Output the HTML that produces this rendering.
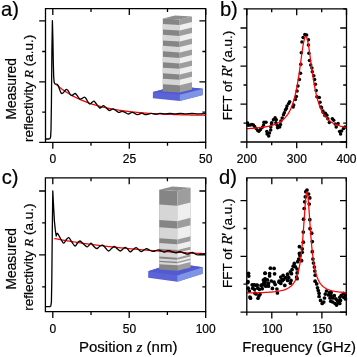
<!DOCTYPE html>
<html><head><meta charset="utf-8"><style>
html,body{margin:0;padding:0;background:#fff;width:357px;height:357px;overflow:hidden}
svg{display:block;will-change:transform}
text{font-family:"Liberation Sans",sans-serif;fill:#000;stroke:#000;stroke-width:0.2px}
</style></head><body>
<svg width="357" height="357" viewBox="0 0 357 357">
<rect width="357" height="357" fill="#fff"/>
<polygon points="152.9,91.9 176,86 202.9,88.7 202.9,95 179.8,100.9 152.9,98.2" fill="#5c63d6"/>
<polygon points="179.8,94.6 202.9,88.7 202.9,95 179.8,100.9" fill="#7e95e6"/>
<polygon points="152.9,91.9 179.8,94.6 202.9,88.7 176,86" fill="#525ad0"/>
<polygon points="162.8,18.4 179.7,19.5 179.7,92.6 162.8,91.5" fill="#858585"/>
<polygon points="179.7,19.5 192,16.5 192,89.6 179.7,92.6" fill="#9d9d9d"/>
<polygon points="162.8,23.88 179.7,24.98 179.7,30.52 162.8,29.42" fill="#d6d6d6"/>
<polygon points="179.7,24.98 192,21.98 192,27.52 179.7,30.52" fill="#efefef"/>
<polygon points="162.8,34.85 179.7,35.95 179.7,41.49 162.8,40.39" fill="#d6d6d6"/>
<polygon points="179.7,35.95 192,32.95 192,38.49 179.7,41.49" fill="#efefef"/>
<polygon points="162.8,45.82 179.7,46.92 179.7,52.46 162.8,51.36" fill="#d6d6d6"/>
<polygon points="179.7,46.92 192,43.92 192,49.46 179.7,52.46" fill="#efefef"/>
<polygon points="162.8,56.79 179.7,57.89 179.7,63.43 162.8,62.33" fill="#d6d6d6"/>
<polygon points="179.7,57.89 192,54.89 192,60.43 179.7,63.43" fill="#efefef"/>
<polygon points="162.8,67.77 179.7,68.86 179.7,74.4 162.8,73.3" fill="#d6d6d6"/>
<polygon points="179.7,68.86 192,65.86 192,71.4 179.7,74.4" fill="#efefef"/>
<polygon points="162.8,78.73 179.7,79.83 179.7,85.37 162.8,84.27" fill="#d6d6d6"/>
<polygon points="179.7,79.83 192,76.83 192,82.37 179.7,85.37" fill="#efefef"/>
<polygon points="162.8,18.4 179.7,19.5 192,16.5 175.1,15.4" fill="#8e8e8e"/>
<polygon points="148.2,271.2 173.6,263.1 202.7,267.2 202.7,273.7 177.3,281.8 148.2,277.7" fill="#5c63d6"/>
<polygon points="177.3,275.3 202.7,267.2 202.7,273.7 177.3,281.8" fill="#7e95e6"/>
<polygon points="148.2,271.2 177.3,275.3 202.7,267.2 173.6,263.1" fill="#525ad0"/>
<polygon points="159.2,189.8 177.4,191 177.4,270.8 159.2,269.6" fill="#858585"/>
<polygon points="177.4,191 190.6,187.7 190.6,267.5 177.4,270.8" fill="#9d9d9d"/>
<polygon points="159.2,204.5 177.4,205.7 177.4,221.15 159.2,219.95" fill="#d6d6d6"/>
<polygon points="177.4,205.7 190.6,202.4 190.6,217.85 177.4,221.15" fill="#efefef"/>
<polygon points="159.2,227.3 177.4,228.5 177.4,239.45 159.2,238.25" fill="#d6d6d6"/>
<polygon points="177.4,228.5 190.6,225.2 190.6,236.15 177.4,239.45" fill="#efefef"/>
<polygon points="159.2,243.1 177.4,244.3 177.4,249.95 159.2,248.75" fill="#d6d6d6"/>
<polygon points="177.4,244.3 190.6,241 190.6,246.65 177.4,249.95" fill="#efefef"/>
<polygon points="159.2,251.5 177.4,252.7 177.4,257.65 159.2,256.45" fill="#d6d6d6"/>
<polygon points="177.4,252.7 190.6,249.4 190.6,254.35 177.4,257.65" fill="#efefef"/>
<polygon points="159.2,258.5 177.4,259.7 177.4,261.85 159.2,260.65" fill="#d6d6d6"/>
<polygon points="177.4,259.7 190.6,256.4 190.6,258.55 177.4,261.85" fill="#efefef"/>
<polygon points="159.2,262 177.4,263.2 177.4,265.35 159.2,264.15" fill="#d6d6d6"/>
<polygon points="177.4,263.2 190.6,259.9 190.6,262.05 177.4,265.35" fill="#efefef"/>
<polygon points="159.2,189.8 177.4,191 190.6,187.7 172.4,186.5" fill="#8e8e8e"/>
<path d="M56.5 84.78C56.71 84.96 57.34 85.49 57.75 85.83C58.17 86.17 58.59 86.5 59.01 86.83C59.43 87.16 59.84 87.49 60.26 87.81C60.68 88.13 61.1 88.44 61.52 88.75C61.93 89.06 62.35 89.36 62.77 89.66C63.19 89.96 63.6 90.25 64.02 90.54C64.44 90.83 64.86 91.11 65.28 91.39C65.69 91.67 66.11 91.94 66.53 92.21C66.95 92.48 67.37 92.74 67.78 93C68.2 93.26 68.62 93.52 69.04 93.77C69.46 94.02 69.87 94.27 70.29 94.51C70.71 94.75 71.13 94.99 71.55 95.23C71.96 95.46 72.38 95.69 72.8 95.92C73.22 96.14 73.64 96.37 74.05 96.59C74.47 96.81 74.89 97.02 75.31 97.23C75.72 97.44 76.14 97.65 76.56 97.86C76.98 98.06 77.4 98.26 77.81 98.46C78.23 98.66 78.65 98.85 79.07 99.04C79.49 99.23 79.9 99.42 80.32 99.61C80.74 99.79 81.16 99.97 81.58 100.15C81.99 100.33 82.41 100.51 82.83 100.68C83.25 100.85 83.67 101.02 84.08 101.19C84.5 101.35 84.92 101.52 85.34 101.68C85.75 101.84 86.17 102 86.59 102.15C87.01 102.31 87.43 102.46 87.84 102.61C88.26 102.76 88.68 102.91 89.1 103.06C89.52 103.2 89.93 103.34 90.35 103.48C90.77 103.62 91.19 103.76 91.61 103.9C92.02 104.03 92.44 104.17 92.86 104.3C93.28 104.43 93.7 104.56 94.11 104.69C94.53 104.81 94.95 104.94 95.37 105.06C95.79 105.18 96.2 105.3 96.62 105.42C97.04 105.54 97.46 105.66 97.87 105.77C98.29 105.88 98.71 106 99.13 106.11C99.55 106.22 99.96 106.33 100.38 106.43C100.8 106.54 101.22 106.65 101.64 106.75C102.05 106.85 102.47 106.95 102.89 107.05C103.31 107.15 103.73 107.25 104.14 107.35C104.56 107.44 104.98 107.54 105.4 107.63C105.82 107.73 106.23 107.82 106.65 107.91C107.07 108 107.49 108.09 107.91 108.17C108.32 108.26 108.74 108.35 109.16 108.43C109.58 108.51 109.99 108.6 110.41 108.68C110.83 108.76 111.25 108.84 111.67 108.92C112.08 109 112.5 109.07 112.92 109.15C113.34 109.23 113.76 109.3 114.17 109.37C114.59 109.45 115.01 109.52 115.43 109.59C115.85 109.66 116.26 109.73 116.68 109.8C117.1 109.87 117.52 109.93 117.94 110C118.35 110.07 118.77 110.13 119.19 110.2C119.61 110.26 120.02 110.32 120.44 110.38C120.86 110.45 121.28 110.51 121.7 110.57C122.11 110.63 122.53 110.69 122.95 110.74C123.37 110.8 123.79 110.86 124.2 110.91C124.62 110.97 125.04 111.02 125.46 111.08C125.88 111.13 126.29 111.19 126.71 111.24C127.13 111.29 127.55 111.34 127.97 111.39C128.38 111.44 128.8 111.49 129.22 111.54C129.64 111.59 130.06 111.64 130.47 111.68C130.89 111.73 131.31 111.78 131.73 111.82C132.14 111.87 132.56 111.91 132.98 111.96C133.4 112 133.82 112.04 134.23 112.09C134.65 112.13 135.07 112.17 135.49 112.21C135.91 112.25 136.32 112.29 136.74 112.33C137.16 112.37 137.58 112.41 138 112.45C138.41 112.49 138.83 112.52 139.25 112.56C139.67 112.6 140.09 112.63 140.5 112.67C140.92 112.71 141.34 112.74 141.76 112.78C142.18 112.81 142.59 112.84 143.01 112.88C143.43 112.91 143.85 112.94 144.26 112.98C144.68 113.01 145.1 113.04 145.52 113.07C145.94 113.1 146.35 113.13 146.77 113.16C147.19 113.19 147.61 113.22 148.03 113.25C148.44 113.28 148.86 113.31 149.28 113.34C149.7 113.37 150.12 113.39 150.53 113.42C150.95 113.45 151.37 113.48 151.79 113.5C152.21 113.53 152.62 113.55 153.04 113.58C153.46 113.61 153.88 113.63 154.29 113.65C154.71 113.68 155.13 113.7 155.55 113.73C155.97 113.75 156.38 113.77 156.8 113.8C157.22 113.82 157.64 113.84 158.06 113.86C158.47 113.89 158.89 113.91 159.31 113.93C159.73 113.95 160.15 113.97 160.56 113.99C160.98 114.01 161.4 114.03 161.82 114.05C162.24 114.07 162.65 114.09 163.07 114.11C163.49 114.13 163.91 114.15 164.33 114.17C164.74 114.19 165.16 114.21 165.58 114.23C166 114.24 166.41 114.26 166.83 114.28C167.25 114.3 167.67 114.31 168.09 114.33C168.5 114.35 168.92 114.36 169.34 114.38C169.76 114.4 170.18 114.41 170.59 114.43C171.01 114.44 171.43 114.46 171.85 114.47C172.27 114.49 172.68 114.5 173.1 114.52C173.52 114.53 173.94 114.55 174.36 114.56C174.77 114.58 175.19 114.59 175.61 114.6C176.03 114.62 176.45 114.63 176.86 114.65C177.28 114.66 177.7 114.67 178.12 114.68C178.53 114.7 178.95 114.71 179.37 114.72C179.79 114.73 180.21 114.75 180.62 114.76C181.04 114.77 181.46 114.78 181.88 114.79C182.3 114.81 182.71 114.82 183.13 114.83C183.55 114.84 183.97 114.85 184.39 114.86C184.8 114.87 185.22 114.88 185.64 114.89C186.06 114.9 186.48 114.91 186.89 114.92C187.31 114.93 187.73 114.94 188.15 114.95C188.56 114.96 188.98 114.97 189.4 114.98C189.82 114.99 190.24 115 190.65 115.01C191.07 115.02 191.49 115.03 191.91 115.04C192.33 115.05 192.74 115.05 193.16 115.06C193.58 115.07 194 115.08 194.42 115.09C194.83 115.1 195.25 115.1 195.67 115.11C196.09 115.12 196.51 115.13 196.92 115.14C197.34 115.14 197.76 115.15 198.18 115.16C198.6 115.17 199.01 115.17 199.43 115.18C199.85 115.19 200.27 115.19 200.68 115.2C201.1 115.21 201.52 115.22 201.94 115.22C202.36 115.23 202.77 115.24 203.19 115.24C203.61 115.25 204.03 115.25 204.45 115.26C204.86 115.27 205.49 115.28 205.7 115.28" fill="none" stroke="#ff0000" stroke-width="1.25"/>
<path d="M45.8 139 L49 139 L50 138.6 L50.6 137 L51 130 L51.4 105 L51.9 50 L52.4 20.6 L52.9 40 L53.3 62 L53.7 77 L54.2 82.6C54.33 82.82 54.52 83.62 55 83.9C55.48 84.18 56.53 83.95 57.1 84.3C57.67 84.65 57.97 85.08 58.4 86C58.83 86.92 59.22 88.58 59.7 89.8C60.18 91.02 60.75 92.77 61.3 93.3C61.85 93.83 62.43 93.38 63 93C63.57 92.62 64.13 91.62 64.7 91C65.27 90.38 65.83 89.37 66.4 89.3C66.97 89.23 67.47 89.75 68.1 90.6C68.73 91.45 69.58 93.57 70.2 94.4C70.82 95.23 71.25 95.6 71.8 95.6C72.35 95.6 72.93 94.75 73.5 94.4C74.07 94.05 74.63 93.37 75.2 93.5C75.77 93.63 76.27 94.42 76.9 95.2C77.53 95.98 78.4 97.55 79 98.2C79.6 98.85 79.92 99.1 80.5 99.1C81.08 99.1 81.85 98.52 82.5 98.2C83.15 97.88 83.82 97.15 84.4 97.2C84.98 97.25 85.4 97.7 86 98.5C86.6 99.3 87.33 101.08 88 102C88.67 102.92 89.33 103.95 90 104C90.67 104.05 91.33 102.77 92 102.3C92.67 101.83 93.33 101 94 101.2C94.67 101.4 95.07 102.38 96 103.5C96.93 104.62 98.68 107.32 99.6 107.9C100.52 108.48 100.85 107.37 101.5 107C102.15 106.63 102.75 105.62 103.5 105.7C104.25 105.78 105.07 106.72 106 107.5C106.93 108.28 108.27 110.02 109.1 110.4C109.93 110.78 110.35 110.07 111 109.8C111.65 109.53 112.25 108.72 113 108.8C113.75 108.88 114.57 109.7 115.5 110.3C116.43 110.9 117.52 112.23 118.6 112.4C119.68 112.57 120.97 111.33 122 111.3C123.03 111.27 123.73 111.75 124.8 112.2C125.87 112.65 127.15 113.98 128.4 114C129.65 114.02 130.8 112.2 132.3 112.3C133.8 112.4 135.82 114.45 137.4 114.6C138.98 114.75 140.5 113.2 141.8 113.2C143.1 113.2 143.6 114.57 145.2 114.6C146.8 114.63 149.62 113.45 151.4 113.4C153.18 113.35 154.5 114.3 155.9 114.3C157.3 114.3 158.28 113.45 159.8 113.4C161.32 113.35 163.3 114.02 165 114C166.7 113.98 168.33 113.32 170 113.3C171.67 113.28 173.33 113.88 175 113.9C176.67 113.92 178.17 113.42 180 113.4C181.83 113.38 184 113.78 186 113.8C188 113.82 190 113.48 192 113.5C194 113.52 195.72 113.88 198 113.9C200.28 113.92 204.42 113.65 205.7 113.6" fill="none" stroke="#000" stroke-width="1.3" stroke-linejoin="round"/>
<path d="M54.2 238.49C54.41 238.53 55.05 238.65 55.47 238.73C55.9 238.81 56.32 238.89 56.75 238.96C57.17 239.04 57.59 239.12 58.02 239.2C58.44 239.28 58.87 239.35 59.29 239.43C59.72 239.51 60.14 239.58 60.57 239.66C60.99 239.73 61.41 239.81 61.84 239.88C62.26 239.96 62.69 240.03 63.11 240.11C63.54 240.18 63.96 240.25 64.38 240.33C64.81 240.4 65.23 240.47 65.66 240.54C66.08 240.62 66.51 240.69 66.93 240.76C67.36 240.83 67.78 240.9 68.2 240.97C68.63 241.04 69.05 241.11 69.48 241.18C69.9 241.25 70.33 241.32 70.75 241.39C71.17 241.46 71.6 241.53 72.02 241.59C72.45 241.66 72.87 241.73 73.3 241.8C73.72 241.86 74.15 241.93 74.57 242C74.99 242.06 75.42 242.13 75.84 242.19C76.27 242.26 76.69 242.32 77.12 242.39C77.54 242.45 77.96 242.52 78.39 242.58C78.81 242.65 79.24 242.71 79.66 242.77C80.09 242.84 80.51 242.9 80.94 242.96C81.36 243.02 81.78 243.09 82.21 243.15C82.63 243.21 83.06 243.27 83.48 243.33C83.91 243.39 84.33 243.45 84.75 243.51C85.18 243.57 85.6 243.63 86.03 243.69C86.45 243.75 86.88 243.81 87.3 243.87C87.73 243.93 88.15 243.99 88.57 244.04C89 244.1 89.42 244.16 89.85 244.22C90.27 244.27 90.7 244.33 91.12 244.39C91.54 244.44 91.97 244.5 92.39 244.56C92.82 244.61 93.24 244.67 93.67 244.72C94.09 244.78 94.52 244.83 94.94 244.89C95.36 244.94 95.79 245 96.21 245.05C96.64 245.1 97.06 245.16 97.49 245.21C97.91 245.27 98.33 245.32 98.76 245.37C99.18 245.42 99.61 245.48 100.03 245.53C100.46 245.58 100.88 245.63 101.31 245.68C101.73 245.73 102.15 245.79 102.58 245.84C103 245.89 103.43 245.94 103.85 245.99C104.28 246.04 104.7 246.09 105.12 246.14C105.55 246.19 105.97 246.24 106.4 246.28C106.82 246.33 107.25 246.38 107.67 246.43C108.09 246.48 108.52 246.53 108.94 246.58C109.37 246.62 109.79 246.67 110.22 246.72C110.64 246.76 111.07 246.81 111.49 246.86C111.91 246.91 112.34 246.95 112.76 247C113.19 247.04 113.61 247.09 114.04 247.13C114.46 247.18 114.88 247.23 115.31 247.27C115.73 247.32 116.16 247.36 116.58 247.4C117.01 247.45 117.43 247.49 117.86 247.54C118.28 247.58 118.7 247.62 119.13 247.67C119.55 247.71 119.98 247.75 120.4 247.8C120.83 247.84 121.25 247.88 121.67 247.93C122.1 247.97 122.52 248.01 122.95 248.05C123.37 248.09 123.8 248.14 124.22 248.18C124.65 248.22 125.07 248.26 125.49 248.3C125.92 248.34 126.34 248.38 126.77 248.42C127.19 248.46 127.62 248.5 128.04 248.54C128.46 248.58 128.89 248.62 129.31 248.66C129.74 248.7 130.16 248.74 130.59 248.78C131.01 248.82 131.44 248.86 131.86 248.89C132.28 248.93 132.71 248.97 133.13 249.01C133.56 249.05 133.98 249.08 134.41 249.12C134.83 249.16 135.25 249.2 135.68 249.23C136.1 249.27 136.53 249.31 136.95 249.34C137.38 249.38 137.8 249.42 138.23 249.45C138.65 249.49 139.07 249.53 139.5 249.56C139.92 249.6 140.35 249.63 140.77 249.67C141.2 249.7 141.62 249.74 142.04 249.77C142.47 249.81 142.89 249.84 143.32 249.88C143.74 249.91 144.17 249.95 144.59 249.98C145.02 250.01 145.44 250.05 145.86 250.08C146.29 250.12 146.71 250.15 147.14 250.18C147.56 250.22 147.99 250.25 148.41 250.28C148.83 250.31 149.26 250.35 149.68 250.38C150.11 250.41 150.53 250.44 150.96 250.48C151.38 250.51 151.81 250.54 152.23 250.57C152.65 250.6 153.08 250.63 153.5 250.67C153.93 250.7 154.35 250.73 154.78 250.76C155.2 250.79 155.62 250.82 156.05 250.85C156.47 250.88 156.9 250.91 157.32 250.94C157.75 250.97 158.17 251 158.59 251.03C159.02 251.06 159.44 251.09 159.87 251.12C160.29 251.15 160.72 251.18 161.14 251.21C161.57 251.24 161.99 251.27 162.41 251.3C162.84 251.32 163.26 251.35 163.69 251.38C164.11 251.41 164.54 251.44 164.96 251.47C165.38 251.49 165.81 251.52 166.23 251.55C166.66 251.58 167.08 251.6 167.51 251.63C167.93 251.66 168.36 251.69 168.78 251.71C169.2 251.74 169.63 251.77 170.05 251.79C170.48 251.82 170.9 251.85 171.33 251.87C171.75 251.9 172.17 251.93 172.6 251.95C173.02 251.98 173.45 252.01 173.87 252.03C174.3 252.06 174.72 252.08 175.15 252.11C175.57 252.13 175.99 252.16 176.42 252.18C176.84 252.21 177.27 252.23 177.69 252.26C178.12 252.28 178.54 252.31 178.96 252.33C179.39 252.36 179.81 252.38 180.24 252.41C180.66 252.43 181.09 252.45 181.51 252.48C181.94 252.5 182.36 252.53 182.78 252.55C183.21 252.57 183.63 252.6 184.06 252.62C184.48 252.64 184.91 252.67 185.33 252.69C185.75 252.71 186.18 252.74 186.6 252.76C187.03 252.78 187.45 252.8 187.88 252.83C188.3 252.85 188.73 252.87 189.15 252.89C189.57 252.92 190 252.94 190.42 252.96C190.85 252.98 191.27 253.01 191.7 253.03C192.12 253.05 192.54 253.07 192.97 253.09C193.39 253.11 193.82 253.13 194.24 253.16C194.67 253.18 195.09 253.2 195.52 253.22C195.94 253.24 196.36 253.26 196.79 253.28C197.21 253.3 197.64 253.32 198.06 253.34C198.49 253.36 198.91 253.38 199.33 253.4C199.76 253.42 200.18 253.44 200.61 253.46C201.03 253.48 201.46 253.5 201.88 253.52C202.31 253.54 202.73 253.56 203.15 253.58C203.58 253.6 204 253.62 204.43 253.64C204.85 253.66 205.49 253.69 205.7 253.7" fill="none" stroke="#ff0000" stroke-width="1.25"/>
<path d="M45.8 306.6 L49.8 306.6 L50.8 306 L51.4 302 L51.8 280 L52.3 230 L52.8 191 L53.4 203 L53.9 212 L54.4 221 L55.3 229.9 L56.2 236C56.42 235.57 56.78 232.98 57.5 233.4C58.22 233.82 59.47 236.87 60.5 238.5C61.53 240.13 62.78 242.95 63.7 243.2C64.62 243.45 65.15 240.93 66 240C66.85 239.07 67.88 237.35 68.8 237.6C69.72 237.85 70.47 240.1 71.5 241.5C72.53 242.9 74 245.75 75 246C76 246.25 76.67 243.83 77.5 243C78.33 242.17 79 240.83 80 241C81 241.17 82.28 243.03 83.5 244C84.72 244.97 86.05 246.93 87.3 246.8C88.55 246.67 89.97 243.33 91 243.2C92.03 243.07 92.55 245.12 93.5 246C94.45 246.88 95.7 248.42 96.7 248.5C97.7 248.58 98.52 247.05 99.5 246.5C100.48 245.95 101.6 244.95 102.6 245.2C103.6 245.45 104.52 247.03 105.5 248C106.48 248.97 107.5 250.92 108.5 251C109.5 251.08 110.52 249.25 111.5 248.5C112.48 247.75 113.4 246.42 114.4 246.5C115.4 246.58 116.52 248.25 117.5 249C118.48 249.75 119.38 251 120.3 251C121.22 251 122.17 249.6 123 249C123.83 248.4 124.47 247.32 125.3 247.4C126.13 247.48 127.17 248.75 128 249.5C128.83 250.25 129.42 251.9 130.3 251.9C131.18 251.9 132.32 250.2 133.3 249.5C134.28 248.8 135.25 247.62 136.2 247.7C137.15 247.78 138.15 249.35 139 250C139.85 250.65 140.47 251.6 141.3 251.6C142.13 251.6 143.1 250.48 144 250C144.9 249.52 145.7 248.62 146.7 248.7C147.7 248.78 148.88 250.05 150 250.5C151.12 250.95 152.4 251.4 153.4 251.4C154.4 251.4 155.15 250.75 156 250.5C156.85 250.25 157.58 249.78 158.5 249.9C159.42 250.02 160.57 250.83 161.5 251.2C162.43 251.57 163.27 252.1 164.1 252.1C164.93 252.1 165.67 251.45 166.5 251.2C167.33 250.95 168.1 250.47 169.1 250.6C170.1 250.73 171.37 251.62 172.5 252C173.63 252.38 174.9 252.9 175.9 252.9C176.9 252.9 177.67 252.18 178.5 252C179.33 251.82 179.9 251.6 180.9 251.8C181.9 252 183.37 252.8 184.5 253.2C185.63 253.6 186.78 254.2 187.7 254.2C188.62 254.2 189.25 253.48 190 253.2C190.75 252.92 191.37 252.4 192.2 252.5C193.03 252.6 194.12 253.4 195 253.8C195.88 254.2 196.5 254.83 197.5 254.9C198.5 254.97 199.63 254.4 201 254.2C202.37 254 204.92 253.78 205.7 253.7" fill="none" stroke="#000" stroke-width="1.3" stroke-linejoin="round"/>
<g fill="#000"><circle cx="247.6" cy="123" r="1.75"/><circle cx="248.3" cy="125.3" r="1.75"/><circle cx="250.3" cy="124.9" r="1.75"/><circle cx="251.9" cy="124.5" r="1.75"/><circle cx="253.4" cy="124.9" r="1.75"/><circle cx="254.6" cy="126.5" r="1.75"/><circle cx="256.2" cy="128.4" r="1.75"/><circle cx="257.7" cy="130.4" r="1.75"/><circle cx="258.9" cy="131.2" r="1.75"/><circle cx="260.5" cy="129.6" r="1.75"/><circle cx="262.4" cy="127.3" r="1.75"/><circle cx="263.6" cy="124.9" r="1.75"/><circle cx="264" cy="122.2" r="1.75"/><circle cx="266" cy="122.2" r="1.75"/><circle cx="266.8" cy="131.6" r="1.75"/><circle cx="267.1" cy="133.9" r="1.75"/><circle cx="268.7" cy="135.9" r="1.75"/><circle cx="269.5" cy="133.1" r="1.75"/><circle cx="270.7" cy="130" r="1.75"/><circle cx="271.5" cy="123.7" r="1.75"/><circle cx="270.8" cy="126.9" r="1.75"/><circle cx="271.7" cy="122.7" r="1.75"/><circle cx="273.4" cy="119.8" r="1.75"/><circle cx="275.1" cy="117.7" r="1.75"/><circle cx="276.3" cy="119.8" r="1.75"/><circle cx="275.9" cy="122.7" r="1.75"/><circle cx="277.2" cy="125.3" r="1.75"/><circle cx="277.6" cy="127.8" r="1.75"/><circle cx="279.7" cy="126.9" r="1.75"/><circle cx="280.5" cy="124.4" r="1.75"/><circle cx="280.9" cy="121" r="1.75"/><circle cx="282.2" cy="118.1" r="1.75"/><circle cx="283.5" cy="114.7" r="1.75"/><circle cx="284.3" cy="112.8" r="1.75"/><circle cx="285.4" cy="110.1" r="1.75"/><circle cx="286.4" cy="108.5" r="1.75"/><circle cx="287" cy="106.1" r="1.75"/><circle cx="288.7" cy="103.4" r="1.75"/><circle cx="289.7" cy="101.7" r="1.75"/><circle cx="293.1" cy="107.1" r="1.75"/><circle cx="293.7" cy="105.1" r="1.75"/><circle cx="295.4" cy="99.4" r="1.75"/><circle cx="296.4" cy="96.4" r="1.75"/><circle cx="297.1" cy="91" r="1.75"/><circle cx="298" cy="85.9" r="1.75"/><circle cx="299.4" cy="79.6" r="1.75"/><circle cx="300.5" cy="73.3" r="1.75"/><circle cx="300.8" cy="64.2" r="1.75"/><circle cx="301.3" cy="52.7" r="1.75"/><circle cx="301.9" cy="42.1" r="1.75"/><circle cx="303.1" cy="37.4" r="1.75"/><circle cx="304.8" cy="34.5" r="1.75"/><circle cx="306.6" cy="35.1" r="1.75"/><circle cx="308.4" cy="39.8" r="1.75"/><circle cx="308.4" cy="45.1" r="1.75"/><circle cx="308.9" cy="53.3" r="1.75"/><circle cx="309.5" cy="60.4" r="1.75"/><circle cx="310.7" cy="65.1" r="1.75"/><circle cx="311.9" cy="68" r="1.75"/><circle cx="312.3" cy="71.8" r="1.75"/><circle cx="313.8" cy="75.7" r="1.75"/><circle cx="314.6" cy="79.6" r="1.75"/><circle cx="315.4" cy="84.3" r="1.75"/><circle cx="316.2" cy="90.6" r="1.75"/><circle cx="316.9" cy="96.8" r="1.75"/><circle cx="319.3" cy="97.6" r="1.75"/><circle cx="320" cy="102.3" r="1.75"/><circle cx="321" cy="107" r="1.75"/><circle cx="321.6" cy="107.8" r="1.75"/><circle cx="322.9" cy="110.9" r="1.75"/><circle cx="323.2" cy="112.4" r="1.75"/><circle cx="324.8" cy="115.6" r="1.75"/><circle cx="325.4" cy="113.3" r="1.75"/><circle cx="326.9" cy="115.3" r="1.75"/><circle cx="327.8" cy="118.7" r="1.75"/><circle cx="329.3" cy="122.6" r="1.75"/><circle cx="332.3" cy="118.7" r="1.75"/><circle cx="333.7" cy="120.2" r="1.75"/><circle cx="335.2" cy="124.1" r="1.75"/><circle cx="336.2" cy="127.1" r="1.75"/><circle cx="338.1" cy="123.6" r="1.75"/><circle cx="339.6" cy="131.5" r="1.75"/><circle cx="340.6" cy="133.9" r="1.75"/><circle cx="341.6" cy="131" r="1.75"/><circle cx="343.5" cy="128.5" r="1.75"/><circle cx="345" cy="127.1" r="1.75"/></g>
<path d="M246.8 128.67 L248.04 128.6 L249.27 128.53 L250.51 128.45 L251.74 128.36 L252.98 128.27 L254.22 128.17 L255.45 128.07 L256.69 127.95 L257.92 127.83 L259.16 127.69 L260.39 127.55 L261.63 127.39 L262.87 127.22 L264.1 127.03 L265.34 126.82 L266.57 126.6 L267.81 126.35 L269.05 126.08 L270.28 125.78 L271.52 125.45 L272.75 125.08 L273.99 124.68 L275.23 124.22 L276.46 123.72 L277.7 123.15 L278.93 122.5 L280.17 121.77 L281.41 120.95 L282.64 120 L283.88 118.92 L285.11 117.67 L286.35 116.23 L287.58 114.54 L288.82 112.57 L290.06 110.25 L291.29 107.51 L292.53 104.25 L293.76 100.37 L295 95.74 L295 95.74 L295.37 94.17 L295.75 92.53 L296.12 90.8 L296.49 88.97 L296.86 87.06 L297.24 85.05 L297.61 82.95 L297.98 80.75 L298.36 78.46 L298.73 76.08 L299.1 73.6 L299.47 71.05 L299.85 68.43 L300.22 65.75 L300.59 63.02 L300.97 60.27 L301.34 57.51 L301.71 54.78 L302.08 52.11 L302.46 49.52 L302.83 47.06 L303.2 44.76 L303.58 42.66 L303.95 40.81 L304.32 39.24 L304.69 37.98 L305.07 37.07 L305.44 36.52 L305.81 36.34 L306.19 36.55 L306.56 37.13 L306.93 38.08 L307.31 39.37 L307.68 40.96 L308.05 42.84 L308.42 44.96 L308.8 47.27 L309.17 49.75 L309.54 52.35 L309.92 55.04 L310.29 57.78 L310.66 60.54 L311.03 63.3 L311.41 66.03 L311.78 68.71 L312.15 71.33 L312.53 73.89 L312.9 76.36 L313.27 78.74 L313.64 81.03 L314.02 83.23 L314.39 85.33 L314.76 87.34 L315.14 89.25 L315.51 91.07 L315.88 92.8 L316.25 94.45 L316.63 96.01 L317 97.49 L317 97.49 L318.02 101.16 L319.03 104.34 L320.05 107.09 L321.07 109.48 L322.09 111.56 L323.1 113.38 L324.12 114.97 L325.14 116.37 L326.16 117.61 L327.17 118.7 L328.19 119.68 L329.21 120.55 L330.22 121.33 L331.24 122.03 L332.26 122.66 L333.28 123.24 L334.29 123.75 L335.31 124.23 L336.33 124.66 L337.34 125.05 L338.36 125.41 L339.38 125.74 L340.4 126.05 L341.41 126.33 L342.43 126.59 L343.45 126.84 L344.47 127.06 L345.48 127.27 L346.5 127.47" fill="none" stroke="#ff0000" stroke-width="1.25"/>
<g fill="#000"><circle cx="307" cy="190" r="1.85"/><circle cx="305.8" cy="191.7" r="1.85"/><circle cx="308.6" cy="194" r="1.85"/><circle cx="305.3" cy="196.8" r="1.85"/><circle cx="309.8" cy="197.9" r="1.85"/><circle cx="304.7" cy="201.8" r="1.85"/><circle cx="309.2" cy="204" r="1.85"/><circle cx="304.2" cy="208.5" r="1.85"/><circle cx="303.6" cy="219.2" r="1.85"/><circle cx="309.8" cy="219.7" r="1.85"/><circle cx="310" cy="228.7" r="1.85"/><circle cx="311.7" cy="233.2" r="1.85"/><circle cx="303.3" cy="232.1" r="1.85"/><circle cx="303.3" cy="242.2" r="1.85"/><circle cx="312.3" cy="241.6" r="1.85"/><circle cx="299.4" cy="246.7" r="1.85"/><circle cx="302.2" cy="248.9" r="1.85"/><circle cx="299.4" cy="253.4" r="1.85"/><circle cx="302.2" cy="252.3" r="1.85"/><circle cx="312.3" cy="251.7" r="1.85"/><circle cx="298.8" cy="259" r="1.85"/><circle cx="301.6" cy="260.7" r="1.85"/><circle cx="312.9" cy="259" r="1.85"/><circle cx="313.5" cy="263" r="1.85"/><circle cx="314.4" cy="267" r="1.85"/><circle cx="314.8" cy="271" r="1.85"/><circle cx="315.2" cy="275.2" r="1.85"/><circle cx="315.1" cy="281.2" r="1.85"/><circle cx="316.7" cy="283.9" r="1.85"/><circle cx="317.5" cy="287.8" r="1.85"/><circle cx="318.3" cy="290.5" r="1.85"/><circle cx="319.1" cy="293.3" r="1.85"/><circle cx="319.1" cy="296.5" r="1.85"/><circle cx="320.6" cy="300.4" r="1.85"/><circle cx="322.2" cy="303.5" r="1.85"/><circle cx="323.8" cy="302" r="1.85"/><circle cx="324.5" cy="298" r="1.85"/><circle cx="325.3" cy="294.1" r="1.85"/><circle cx="326.5" cy="291" r="1.85"/><circle cx="328.5" cy="294.9" r="1.85"/><circle cx="330" cy="298" r="1.85"/><circle cx="330.8" cy="301.2" r="1.85"/><circle cx="331.2" cy="292.5" r="1.85"/><circle cx="329.6" cy="292.5" r="1.85"/><circle cx="331.1" cy="295.7" r="1.85"/><circle cx="332.7" cy="298" r="1.85"/><circle cx="332.7" cy="302" r="1.85"/><circle cx="335.1" cy="303.5" r="1.85"/><circle cx="336.6" cy="305.1" r="1.85"/><circle cx="338.2" cy="302.7" r="1.85"/><circle cx="339.8" cy="303.5" r="1.85"/><circle cx="340.5" cy="300.4" r="1.85"/><circle cx="339.8" cy="297.3" r="1.85"/><circle cx="341.3" cy="295.3" r="1.85"/><circle cx="343.7" cy="297.3" r="1.85"/><circle cx="345.3" cy="295.7" r="1.85"/><circle cx="343.7" cy="293.3" r="1.85"/><circle cx="334.3" cy="295.7" r="1.85"/><circle cx="335.8" cy="298.8" r="1.85"/><circle cx="337.4" cy="300.4" r="1.85"/><circle cx="345.5" cy="299" r="1.85"/><circle cx="299.9" cy="255.6" r="1.85"/><circle cx="298.8" cy="259.5" r="1.85"/><circle cx="297.7" cy="261.7" r="1.85"/><circle cx="294.3" cy="263.4" r="1.85"/><circle cx="293.2" cy="266.2" r="1.85"/><circle cx="295.4" cy="266.8" r="1.85"/><circle cx="292.1" cy="269.6" r="1.85"/><circle cx="297.1" cy="269" r="1.85"/><circle cx="290.4" cy="271.8" r="1.85"/><circle cx="287.6" cy="274" r="1.85"/><circle cx="297.1" cy="272.9" r="1.85"/><circle cx="283.1" cy="275.4" r="1.85"/><circle cx="287.6" cy="274.8" r="1.85"/><circle cx="291.5" cy="273.7" r="1.85"/><circle cx="285.4" cy="277.6" r="1.85"/><circle cx="288.7" cy="277.6" r="1.85"/><circle cx="283.7" cy="279.3" r="1.85"/><circle cx="287.6" cy="280.4" r="1.85"/><circle cx="291" cy="280.4" r="1.85"/><circle cx="284.8" cy="285.4" r="1.85"/><circle cx="290.4" cy="283.2" r="1.85"/><circle cx="296.6" cy="277" r="1.85"/><circle cx="297.1" cy="278.7" r="1.85"/><circle cx="270.4" cy="268.2" r="1.85"/><circle cx="274.1" cy="268.4" r="1.85"/><circle cx="265.1" cy="273.2" r="1.85"/><circle cx="269.6" cy="273.5" r="1.85"/><circle cx="274.6" cy="273.8" r="1.85"/><circle cx="269.6" cy="276" r="1.85"/><circle cx="265.1" cy="278.8" r="1.85"/><circle cx="267.4" cy="279.9" r="1.85"/><circle cx="271.3" cy="281" r="1.85"/><circle cx="280.8" cy="277.1" r="1.85"/><circle cx="281.9" cy="279.9" r="1.85"/><circle cx="279.1" cy="281" r="1.85"/><circle cx="265.1" cy="282.2" r="1.85"/><circle cx="268.5" cy="283.4" r="1.85"/><circle cx="268.5" cy="286.2" r="1.85"/><circle cx="265.7" cy="286.2" r="1.85"/><circle cx="274.1" cy="282.2" r="1.85"/><circle cx="275.2" cy="284.5" r="1.85"/><circle cx="279.1" cy="282.2" r="1.85"/><circle cx="280.8" cy="283.4" r="1.85"/><circle cx="272.4" cy="288.4" r="1.85"/><circle cx="276.9" cy="289" r="1.85"/><circle cx="277.4" cy="292.9" r="1.85"/><circle cx="282.5" cy="280.6" r="1.85"/><circle cx="248.5" cy="273.3" r="1.85"/><circle cx="248.8" cy="276.1" r="1.85"/><circle cx="248" cy="281.7" r="1.85"/><circle cx="265" cy="273.3" r="1.85"/><circle cx="263.4" cy="280" r="1.85"/><circle cx="265" cy="279.4" r="1.85"/><circle cx="253.3" cy="285" r="1.85"/><circle cx="257.2" cy="285" r="1.85"/><circle cx="261.7" cy="285" r="1.85"/><circle cx="265" cy="284.5" r="1.85"/><circle cx="247.7" cy="282.6" r="1.85"/><circle cx="248.2" cy="288.2" r="1.85"/><circle cx="249.4" cy="291" r="1.85"/><circle cx="249.9" cy="297.1" r="1.85"/><circle cx="250.5" cy="298.2" r="1.85"/><circle cx="252.2" cy="284.8" r="1.85"/><circle cx="254.4" cy="284.8" r="1.85"/><circle cx="256.6" cy="285.4" r="1.85"/><circle cx="252.7" cy="288.2" r="1.85"/><circle cx="254.4" cy="289.3" r="1.85"/><circle cx="255" cy="293.2" r="1.85"/><circle cx="256.1" cy="294" r="1.85"/><circle cx="257.8" cy="288.2" r="1.85"/><circle cx="259.4" cy="289.3" r="1.85"/><circle cx="261.1" cy="285.4" r="1.85"/><circle cx="262.8" cy="284.8" r="1.85"/><circle cx="262.2" cy="288.7" r="1.85"/><circle cx="258.9" cy="296" r="1.85"/><circle cx="258" cy="298.2" r="1.85"/><circle cx="260" cy="294.3" r="1.85"/><circle cx="263.9" cy="282.6" r="1.85"/></g>
<path d="M246.8 292.97 L248.11 292.95 L249.43 292.93 L250.74 292.91 L252.05 292.88 L253.36 292.86 L254.68 292.83 L255.99 292.79 L257.3 292.76 L258.62 292.72 L259.93 292.67 L261.24 292.63 L262.55 292.57 L263.87 292.52 L265.18 292.45 L266.49 292.38 L267.81 292.3 L269.12 292.22 L270.43 292.12 L271.74 292.01 L273.06 291.89 L274.37 291.75 L275.68 291.59 L276.99 291.42 L278.31 291.21 L279.62 290.98 L280.93 290.72 L282.25 290.41 L283.56 290.04 L284.87 289.62 L286.18 289.11 L287.5 288.5 L288.81 287.77 L290.12 286.87 L291.44 285.76 L292.75 284.36 L294.06 282.56 L295.37 280.24 L296.69 277.15 L298 272.97 L298 272.97 L298.23 272.1 L298.46 271.18 L298.68 270.21 L298.91 269.18 L299.14 268.08 L299.37 266.93 L299.59 265.7 L299.82 264.39 L300.05 263.01 L300.28 261.54 L300.51 259.99 L300.73 258.33 L300.96 256.58 L301.19 254.72 L301.42 252.75 L301.65 250.66 L301.87 248.45 L302.1 246.12 L302.33 243.65 L302.56 241.06 L302.78 238.34 L303.01 235.5 L303.24 232.53 L303.47 229.45 L303.7 226.28 L303.92 223.02 L304.15 219.71 L304.38 216.38 L304.61 213.06 L304.84 209.8 L305.06 206.64 L305.29 203.64 L305.52 200.86 L305.75 198.36 L305.97 196.2 L306.2 194.43 L306.43 193.11 L306.66 192.27 L306.89 191.94 L307.11 192.12 L307.34 192.81 L307.57 194 L307.8 195.64 L308.03 197.69 L308.25 200.09 L308.48 202.8 L308.71 205.74 L308.94 208.86 L309.16 212.1 L309.39 215.41 L309.62 218.75 L309.85 222.07 L310.08 225.34 L310.3 228.55 L310.53 231.66 L310.76 234.66 L310.99 237.55 L311.22 240.31 L311.44 242.94 L311.67 245.44 L311.9 247.82 L312.13 250.07 L312.35 252.19 L312.58 254.2 L312.81 256.09 L313.04 257.88 L313.27 259.57 L313.49 261.15 L313.72 262.65 L313.95 264.06 L314.18 265.39 L314.41 266.64 L314.63 267.82 L314.86 268.93 L315.09 269.99 L315.32 270.98 L315.54 271.92 L315.77 272.8 L316 273.64 L316 273.64 L317.04 276.95 L318.09 279.55 L319.13 281.62 L320.18 283.29 L321.22 284.65 L322.27 285.78 L323.31 286.71 L324.36 287.5 L325.4 288.17 L326.45 288.75 L327.49 289.24 L328.54 289.67 L329.58 290.04 L330.63 290.37 L331.67 290.66 L332.72 290.92 L333.76 291.15 L334.81 291.36 L335.85 291.54 L336.9 291.71 L337.94 291.86 L338.99 292 L340.03 292.13 L341.08 292.24 L342.12 292.35 L343.17 292.45 L344.21 292.54 L345.26 292.62 L346.3 292.7" fill="none" stroke="#ff0000" stroke-width="1.25"/>
<path d="M45.5 8.7 H205.7 V142.4 H45.5 Z" fill="none" stroke="#000" stroke-width="1.3" stroke-linejoin="miter" stroke-linecap="square"/>
<path d="M39.2 20.9H45.5M205.7 20.9H199.4M39.2 81.8H45.5M205.7 81.8H199.4M39.2 142.4H45.5M205.7 142.4H199.4M42.2 51.5H45.5M205.7 51.5H202.4M42.2 112.1H45.5M205.7 112.1H202.4M52.8 142.4V148.7M52.8 8.7V15M129.3 142.4V148.7M129.3 8.7V15M205.7 142.4V148.7M205.7 8.7V15M91 142.4V145.7M91 8.7V12M167.5 142.4V145.7M167.5 8.7V12" fill="none" stroke="#000" stroke-width="1.3"/>
<path d="M246.8 8.9 H346.5 V142 H246.8 Z" fill="none" stroke="#000" stroke-width="1.3" stroke-linejoin="miter" stroke-linecap="square"/>
<path d="M240.5 28H246.8M346.5 28H340.2M240.5 66.2H246.8M346.5 66.2H340.2M240.5 104.1H246.8M346.5 104.1H340.2M240.5 142H246.8M346.5 142H340.2M243.5 8.9H246.8M346.5 8.9H343.2M243.5 47.1H246.8M346.5 47.1H343.2M243.5 85H246.8M346.5 85H343.2M243.5 123.1H246.8M346.5 123.1H343.2M246.8 142V148.3M246.8 8.9V15.2M296.7 142V148.3M296.7 8.9V15.2M346.5 142V148.3M346.5 8.9V15.2M271.7 142V145.3M271.7 8.9V12.2M321.7 142V145.3M321.7 8.9V12.2" fill="none" stroke="#000" stroke-width="1.3"/>
<path d="M45.4 177.9 H205.7 V311.6 H45.4 Z" fill="none" stroke="#000" stroke-width="1.3" stroke-linejoin="miter" stroke-linecap="square"/>
<path d="M39.1 191H45.4M205.7 191H199.4M39.1 254.9H45.4M205.7 254.9H199.4M42.1 222.9H45.4M205.7 222.9H202.4M42.1 286.8H45.4M205.7 286.8H202.4M52.8 311.6V317.9M52.8 177.9V184.2M129.2 311.6V317.9M129.2 177.9V184.2M205.7 311.6V317.9M205.7 177.9V184.2M91 311.6V314.9M91 177.9V181.2M167.4 311.6V314.9M167.4 177.9V181.2" fill="none" stroke="#000" stroke-width="1.3"/>
<path d="M246.8 177.9 H346.3 V312.1 H246.8 Z" fill="none" stroke="#000" stroke-width="1.3" stroke-linejoin="miter" stroke-linecap="square"/>
<path d="M240.5 200.6H246.8M346.3 200.6H340M240.5 256.3H246.8M346.3 256.3H340M240.5 312.1H246.8M346.3 312.1H340M243.5 228.5H246.8M346.3 228.5H343M243.5 284.2H246.8M346.3 284.2H343M271.8 312.1V318.4M271.8 177.9V184.2M321.9 312.1V318.4M321.9 177.9V184.2M246.8 312.1V315.4M246.8 177.9V181.2M296.9 312.1V315.4M296.9 177.9V181.2M346.3 312.1V315.4M346.3 177.9V181.2" fill="none" stroke="#000" stroke-width="1.3"/>
<text x="52.8" y="163.1" font-size="12" text-anchor="middle" >0</text>
<text x="129.4" y="163.1" font-size="12" text-anchor="middle" >25</text>
<text x="205.8" y="163.1" font-size="12" text-anchor="middle" >50</text>
<text x="246.8" y="162.9" font-size="12" text-anchor="middle" >200</text>
<text x="296.8" y="162.9" font-size="12" text-anchor="middle" >300</text>
<text x="346.5" y="162.9" font-size="12" text-anchor="middle" >400</text>
<text x="52.8" y="332.5" font-size="12" text-anchor="middle" >0</text>
<text x="129.4" y="332.5" font-size="12" text-anchor="middle" >50</text>
<text x="205.7" y="332.5" font-size="12" text-anchor="middle" >100</text>
<text x="272.3" y="333.2" font-size="12" text-anchor="middle" >100</text>
<text x="322.2" y="333.2" font-size="12" text-anchor="middle" >150</text>
<text x="1.1" y="15.8" font-size="20.2" text-anchor="start" >a)</text>
<text x="219.9" y="15.8" font-size="20.2" text-anchor="start" >b)</text>
<text x="1.7" y="183.6" font-size="20.2" text-anchor="start" >c)</text>
<text x="219.1" y="184" font-size="20.2" text-anchor="start" >d)</text>
<text transform="translate(15.8 119.4) rotate(-90)" font-size="13.8">Measured</text>
<text transform="translate(32.9 142) rotate(-90)" font-size="13.5">reflectivity <tspan font-family="Liberation Serif, serif" font-style="italic">R</tspan> (a.u.)</text>
<text transform="translate(15.8 289.5) rotate(-90)" font-size="13.8">Measured</text>
<text transform="translate(32.9 310.8) rotate(-90)" font-size="13.5">reflectivity <tspan font-family="Liberation Serif, serif" font-style="italic">R</tspan> (a.u.)</text>
<text transform="translate(231.8 120.3) rotate(-90)" font-size="13.5">FFT of <tspan font-family="Liberation Serif, serif" font-style="italic" font-size="15">R</tspan><tspan font-family="Liberation Sans, sans-serif" font-style="italic" font-size="15.5" dx="-1">&#8242;</tspan> (a.u.)</text>
<text transform="translate(231.8 288) rotate(-90)" font-size="13.5">FFT of <tspan font-family="Liberation Serif, serif" font-style="italic" font-size="15">R</tspan><tspan font-family="Liberation Sans, sans-serif" font-style="italic" font-size="15.5" dx="-1">&#8242;</tspan> (a.u.)</text>
<text x="79" y="352.3" font-size="15" text-anchor="start" >Position <tspan font-family="Liberation Serif, serif" font-style="italic">z</tspan> (nm)</text>
<text x="242.2" y="352.3" font-size="14.85" text-anchor="start" >Frequency (GHz)</text>
</svg>
</body></html>
